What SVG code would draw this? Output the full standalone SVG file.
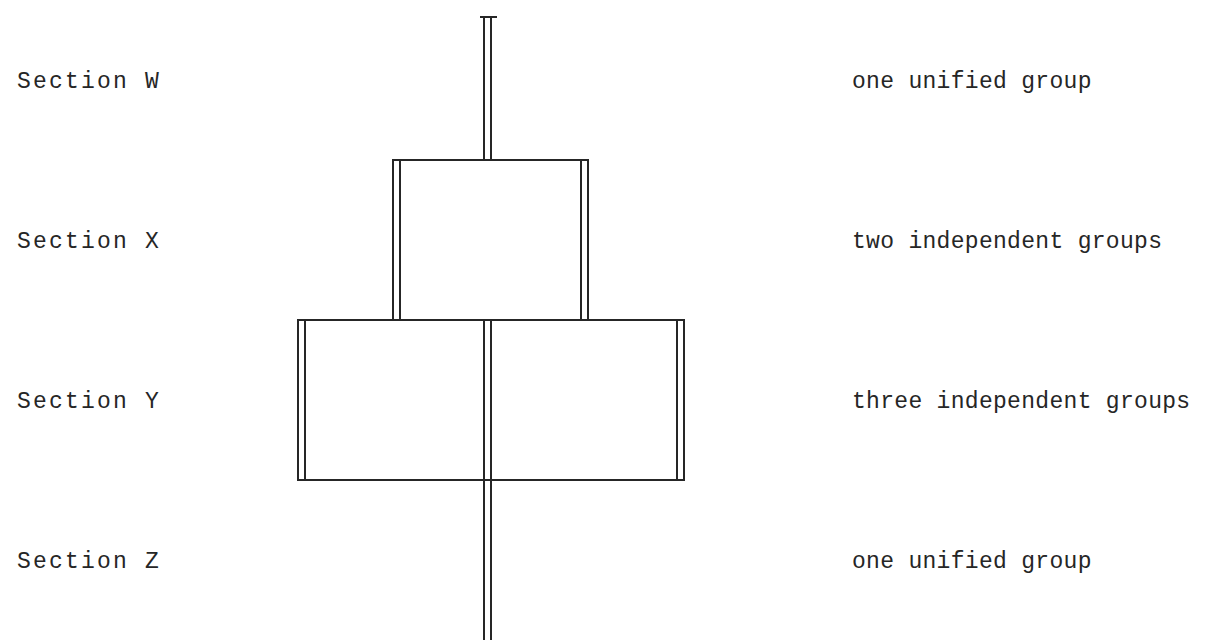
<svg xmlns="http://www.w3.org/2000/svg" width="1207" height="640" viewBox="0 0 1207 640">
<style>
.t{font-family:"Liberation Mono","DejaVu Sans Mono",monospace;font-size:23px;fill:#262626}
.l{letter-spacing:2.2px}
.r{letter-spacing:0.3px}
.ln{stroke:#262626;stroke-width:2;fill:none;stroke-linecap:square}
</style>
<rect width="1207" height="640" fill="#ffffff"/>
<g id="connectors">
<line class="ln" x1="481" y1="17" x2="496" y2="17"/>
<line class="ln" x1="484" y1="17" x2="484" y2="160"/>
<line class="ln" x1="491" y1="17" x2="491" y2="160"/>
<line class="ln" x1="484" y1="320" x2="484" y2="640"/>
<line class="ln" x1="491" y1="320" x2="491" y2="640"/>
</g>
<g id="upper-box">
<rect class="ln" x="393" y="160" width="195" height="160"/>
<line class="ln" x1="400" y1="160" x2="400" y2="320"/>
<line class="ln" x1="581" y1="160" x2="581" y2="320"/>
</g>
<g id="lower-box">
<rect class="ln" x="298" y="320" width="386" height="160"/>
<line class="ln" x1="305" y1="320" x2="305" y2="480"/>
<line class="ln" x1="677" y1="320" x2="677" y2="480"/>
</g>
<g id="labels-left">
<text class="t l" x="17" y="88">Section W</text>
<text class="t l" x="17" y="248">Section X</text>
<text class="t l" x="17" y="408">Section Y</text>
<text class="t l" x="17" y="568">Section Z</text>
</g>
<g id="labels-right">
<text class="t r" x="852" y="88">one unified group</text>
<text class="t r" x="852" y="248">two independent groups</text>
<text class="t r" x="852" y="408">three independent groups</text>
<text class="t r" x="852" y="568">one unified group</text>
</g>
</svg>
